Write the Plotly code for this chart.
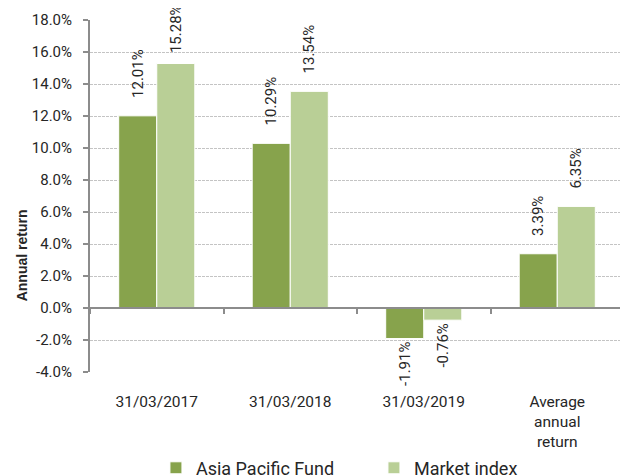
import plotly.graph_objects as go

categories = ["31/03/2017", "31/03/2018", "31/03/2019", "Average<br>annual<br>return"]
fund_values = [12.01, 10.29, -1.91, 3.39]
index_values = [15.28, 13.54, -0.76, 6.35]
series_names = ["Asia Pacific Fund", "Market index"]
y_ticks = [-4, -2, 0, 2, 4, 6, 8, 10, 12, 14, 16, 18]

dark = "#87A34C"
light = "#B9CF96"
font = "Roboto"
txt = "#262626"
NB = "\u00a0"
Y_MAX = 18


def label(v):
    # labels sit a little above positive bars; near the top they are tucked in to stay inside
    s = f"{v:.2f}%"
    if v < 0:
        return s
    pad = 2 if Y_MAX - v < 3.5 else 4
    return NB * pad + s


fig = go.Figure()
for name, vals, col in [(series_names[0], fund_values, dark), (series_names[1], index_values, light)]:
    fig.add_trace(go.Bar(
        x=categories, y=vals, name=name,
        marker=dict(color=col, line=dict(color="white", width=1)),
        text=[label(v) for v in vals], textposition="outside", textangle=-90,
        constraintext="none",
        textfont=dict(family=font, size=15, color=txt),
        cliponaxis=False,
    ))
# invisible trace to host the zero-line axis with boundary ticks
fig.add_trace(go.Bar(x=categories, y=[0, 0, 0, 0], xaxis="x2", showlegend=False,
                     hoverinfo="skip", marker=dict(color="rgba(0,0,0,0)")))

# the page body has an 8px margin, so the figure is sized to fill the rest of the window
fig.update_layout(
    width=620, height=467,
    margin=dict(l=82, r=4, t=12, b=103, autoexpand=False),
    paper_bgcolor="white", plot_bgcolor="white",
    barmode="group", bargap=0.43, bargroupgap=0,
    font=dict(family=font, size=15, color=txt),
    xaxis=dict(showline=False, ticks="", showgrid=False, zeroline=False, automargin=False,
               ticklabelstandoff=18,
               tickfont=dict(family=font, size=15.5, color=txt)),
    xaxis2=dict(overlaying="x", anchor="free", position=4 / 22, matches="x",
                showline=True, linecolor="#8c8c8c", linewidth=2,
                ticks="outside", ticklen=5, tickcolor="#8c8c8c", tickwidth=2,
                tickson="boundaries", showticklabels=False, showgrid=False),
    yaxis=dict(range=[-4, Y_MAX], tickvals=y_ticks, ticktext=[f"{v:.1f}%" for v in y_ticks],
               automargin=False, ticklabelstandoff=8,
               showline=True, linecolor="#8c8c8c", linewidth=2,
               ticks="outside", ticklen=5, tickcolor="#8c8c8c", tickwidth=2,
               showgrid=True, gridcolor="#c4c4c4", griddash="3px,1px", gridwidth=1,
               zeroline=False, tickfont=dict(family=font, size=15, color=txt)),
    legend=dict(orientation="h", x=0.1235, xanchor="left", y=-0.273, yanchor="middle",
                font=dict(family=font, size=18, color=txt), entrywidth=173,
                traceorder="normal"),
    annotations=[dict(text="<b>Annual return</b>", textangle=-90, xref="paper", yref="paper",
                      x=-0.127, y=0.332, xanchor="center", yanchor="middle", showarrow=False,
                      font=dict(family="Liberation Sans", size=14, color=txt))],
)

fig.write_html("out.html")
